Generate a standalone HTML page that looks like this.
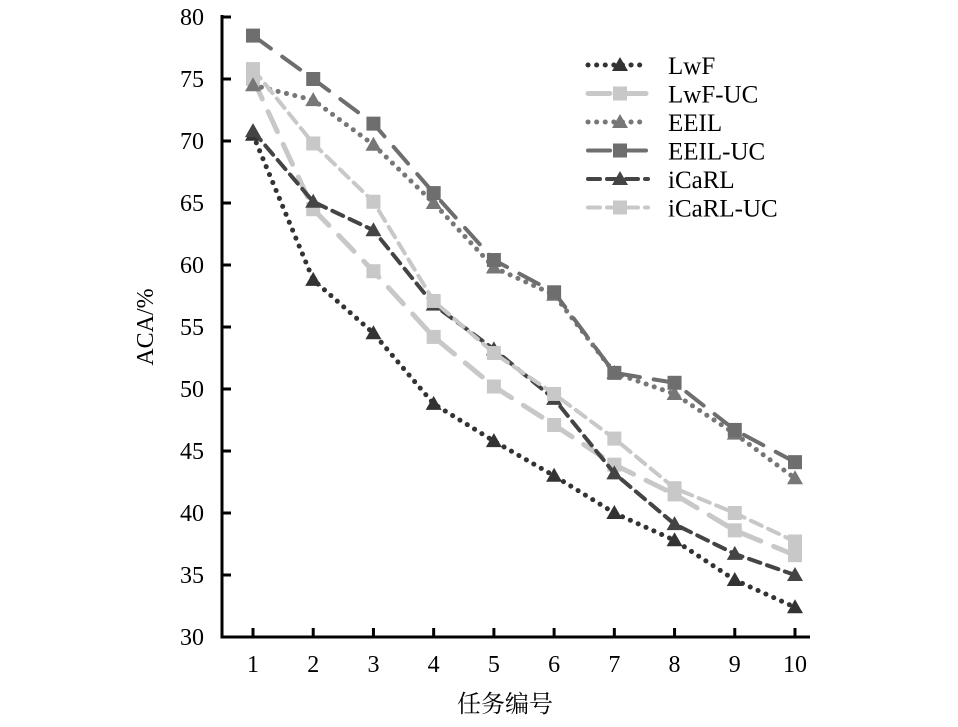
<!DOCTYPE html>
<html><head><meta charset="utf-8"><style>
html,body{margin:0;padding:0;background:#fff;}
svg text{font-family:"Liberation Serif","Noto Serif CJK SC",serif;fill:#000;}
</style></head><body>
<svg id="c" width="958" height="722" xmlns="http://www.w3.org/2000/svg"></svg>
<script>
const categories=[1,2,3,4,5,6,7,8,9,10];
const yTicks=[30,35,40,45,50,55,60,65,70,75,80];
const seriesNames=["LwF","LwF-UC","EEIL","EEIL-UC","iCaRL","iCaRL-UC"];
const lwf=[70.5,58.8,54.5,48.8,45.8,43.0,40.0,37.8,34.6,32.4];
const lwfUC=[75.0,64.5,59.5,54.2,50.2,47.1,43.9,41.5,38.6,36.6];
const eeil=[74.5,73.3,69.7,65.0,59.8,57.6,51.3,49.6,46.4,42.8];
const eeilUC=[78.5,75.0,71.4,65.8,60.4,57.8,51.3,50.5,46.7,44.1];
const icarl=[70.8,65.1,62.8,56.8,53.2,49.2,43.2,39.1,36.7,35.0];
const icarlUC=[75.8,69.8,65.1,57.1,52.9,49.6,46.0,42.0,40.0,37.7];

const NS="http://www.w3.org/2000/svg";
const svg=document.getElementById('c');
const X0=222,Y0=637,YT=17;
function xs(v){return 253+(v-1)*(795-253)/9;}
function ys(v){return Y0-(v-30)*(Y0-YT)/50;}
function mk(tag,at){const e=document.createElementNS(NS,tag);for(const k in at)e.setAttribute(k,at[k]);svg.appendChild(e);return e;}

const styles=[
 {d:lwf,c:"#333",dash:"0.1 8.5",cap:"round",w:5,m:"tri",mc:"#333"},
 {d:lwfUC,c:"#c8c8c8",dash:"22 14",cap:"round",w:5,m:"sq",mc:"#c8c8c8"},
 {d:eeil,c:"#777",dash:"0.1 8.5",cap:"round",w:5,m:"tri",mc:"#777"},
 {d:eeilUC,c:"#6e6e6e",dash:"22 14",cap:"round",w:4,m:"sq",mc:"#6e6e6e"},
 {d:icarl,c:"#444",dash:"12 7",cap:"round",w:4,m:"tri",mc:"#444"},
 {d:icarlUC,c:"#c8c8c8",dash:"12 7",cap:"round",w:4,m:"sq",mc:"#c8c8c8"}
];
function marker(x,y,t,c,n){
 let e;
 if(t==="sq") e=mk('rect',{x:x-7,y:y-7,width:14,height:14,fill:c});
 else e=mk('polygon',{points:`${x},${y-8} ${x-8},${y+6} ${x+8},${y+6}`,fill:c});
 
 
}
styles.forEach((s,i)=>{
 const pts=s.d.map((v,j)=>xs(categories[j])+","+ys(v)).join(" ");
 const l=mk('polyline',{points:pts,fill:"none",stroke:s.c,"stroke-width":s.w,"stroke-dasharray":s.dash,"stroke-linecap":s.cap});
 
 
 s.d.forEach((v,j)=>marker(xs(categories[j]),ys(v),s.m,s.mc,'point-'+seriesNames[i].toLowerCase()));
});
let a=mk('path',{d:`M${X0},${YT-2} V${Y0} H810`,fill:"none",stroke:"#000","stroke-width":3});


yTicks.forEach(v=>{
 const t=mk('line',{x1:X0,x2:X0+9,y1:ys(v),y2:ys(v),stroke:"#000","stroke-width":3});
 
 
 const tx=mk('text',{x:X0-18,y:ys(v)+8,"text-anchor":"end","font-size":24});
 tx.textContent=v;
 
 
});
categories.forEach(v=>{
 const t=mk('line',{x1:xs(v),x2:xs(v),y1:Y0,y2:Y0-9,stroke:"#000","stroke-width":3});
 
 
 const tx=mk('text',{x:xs(v),y:Y0+35,"text-anchor":"middle","font-size":24});
 tx.textContent=v;
 
 
});
let yt=mk('text',{x:0,y:0,"text-anchor":"middle","font-size":24,transform:`translate(153,327) rotate(-90)`});
yt.textContent="ACA/%";


let xt=mk('text',{x:505,y:712,"text-anchor":"middle","font-size":24});
xt.textContent="任务编号";


styles.forEach((s,i)=>{
 const y=65+i*28.5;
 const l=mk('line',{x1:588,x2:648,y1:y,y2:y,stroke:s.c,"stroke-width":s.w,"stroke-dasharray":s.dash,"stroke-linecap":s.cap});
 
 
 marker(620,y,s.m,s.mc,'legend-marker');
 const tx=mk('text',{x:668,y:y+9,"font-size":25});
 tx.textContent=seriesNames[i];
 
 
});
</script>
</body></html>
